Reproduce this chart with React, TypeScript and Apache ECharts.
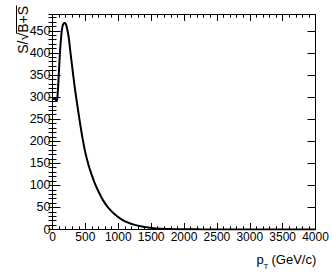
import React, { useEffect, useRef } from "react";
import * as echarts from "echarts";

const ptValues = [10, 30, 50, 65, 75, 90, 110, 125, 140, 155, 170, 185, 200, 215, 230, 250, 270, 300, 340, 380, 420, 460, 500, 550, 600, 650, 700, 770, 850, 950, 1050, 1150, 1250, 1380, 1500, 1650, 1800, 2000, 2300, 2600, 3000, 3500, 4000];
const significance = [294, 297, 294, 291, 300, 335, 392, 425, 449, 462, 467, 468, 466, 460, 449, 432, 405, 368, 320, 279, 240, 204, 174, 145, 122, 102, 86, 66, 49, 34, 23, 15.5, 10.5, 6, 3.5, 1.8, 1, 0.5, 0.2, 0.1, 0.04, 0.02, 0.01];

const X_MIN = 0;
const X_MAX = 4000;
const X_STEP = 500;
const Y_MIN = 0;
const Y_MAX = 487;
const Y_STEP = 50;
const Y_MINOR_STEP = 10;

const FONT = '"Liberation Sans", Arial, Helvetica, sans-serif';

export default function App() {
  const ref = useRef<HTMLDivElement>(null);
  useEffect(() => {
    if (!ref.current) return;
    const chart = echarts.init(ref.current, null, { renderer: "svg" });
    const data = ptValues.map((p, i) => [p, significance[i]]);
    const baseX = {
      type: "value",
      min: X_MIN,
      max: X_MAX,
      interval: X_STEP,
      splitLine: { show: false },
      axisLine: { show: true, onZero: false, lineStyle: { color: "#000", width: 1 } },
      axisTick: { show: true, inside: true, length: 6.5, lineStyle: { color: "#000", width: 1 } },
      minorTick: { show: true, splitNumber: 5, length: 3.2, lineStyle: { color: "#000", width: 1 } },
    };
    const baseY = {
      type: "value",
      min: Y_MIN,
      max: Y_MAX,
      splitLine: { show: false },
      axisLine: { show: true, onZero: false, lineStyle: { color: "#000", width: 1 } },
      axisLabel: { show: false },
    };
    chart.setOption({
      animation: false,
      backgroundColor: "#fff",
      grid: { left: 52.5, right: 16.5, top: 14.5, bottom: 46.5, containLabel: false },
      xAxis: [
        {
          ...baseX,
          position: "bottom",
          axisLabel: {
            show: true,
            margin: 1,
            fontSize: 12,
            fontFamily: FONT,
            color: "#000",
            showMinLabel: true,
            showMaxLabel: true,
            formatter: (v: number) => String(v),
          },
        },
        { ...baseX, position: "top", axisLabel: { show: false } },
      ],
      yAxis: [
        {
          ...baseY,
          position: "left",
          interval: Y_STEP,
          axisTick: { show: true, inside: true, length: 8, lineStyle: { color: "#000", width: 1 } },
          axisLabel: {
            show: true,
            margin: 2,
            fontSize: 12.5,
            fontFamily: FONT,
            color: "#000",
            showMaxLabel: false,
            formatter: (v: number) => String(v),
          },
        },
        {
          ...baseY,
          position: "left",
          interval: Y_MINOR_STEP,
          axisLine: { show: false },
          axisTick: { show: true, inside: true, length: 4, lineStyle: { color: "#000", width: 1 } },
        },
        {
          ...baseY,
          position: "right",
          interval: Y_STEP,
          axisTick: { show: true, inside: true, length: 8, lineStyle: { color: "#000", width: 1 } },
        },
        {
          ...baseY,
          position: "right",
          interval: Y_MINOR_STEP,
          axisLine: { show: false },
          axisTick: { show: true, inside: true, length: 4, lineStyle: { color: "#000", width: 1 } },
        },
      ],
      series: [
        {
          type: "line",
          xAxisIndex: 0,
          yAxisIndex: 0,
          data,
          showSymbol: false,
          smooth: 0.3,
          lineStyle: { color: "#000", width: 2 },
          z: 5,
        },
      ],
      graphic: [
        {
          type: "text",
          x: 23,
          y: 6,
          rotation: Math.PI / 2,
          style: {
            text: "S/√B+S",
            align: "right",
            verticalAlign: "middle",
            fontSize: 14,
            fontFamily: FONT,
            fill: "#000",
          },
        },
        {
          type: "line",
          shape: { x1: 16.5, y1: 5.5, x2: 16.5, y2: 33.5 },
          style: { stroke: "#000", lineWidth: 1 },
        },
        {
          type: "text",
          x: 256.5,
          y: 259,
          style: { text: "p", align: "left", verticalAlign: "middle", fontSize: 13, fontFamily: FONT, fill: "#000" },
        },
        {
          type: "text",
          x: 263.5,
          y: 266,
          style: { text: "T", align: "left", verticalAlign: "middle", fontSize: 8, fontFamily: FONT, fill: "#000" },
        },
        {
          type: "text",
          x: 271.5,
          y: 259,
          style: { text: "(GeV/c)", align: "left", verticalAlign: "middle", fontSize: 13, fontFamily: FONT, fill: "#000" },
        },
      ],
    });
    return () => chart.dispose();
  }, []);
  return (
    <div
      ref={ref}
      style={{ position: "absolute", left: 0, top: 0, width: 332, height: 276, background: "#fff" }}
    />
  );
}
